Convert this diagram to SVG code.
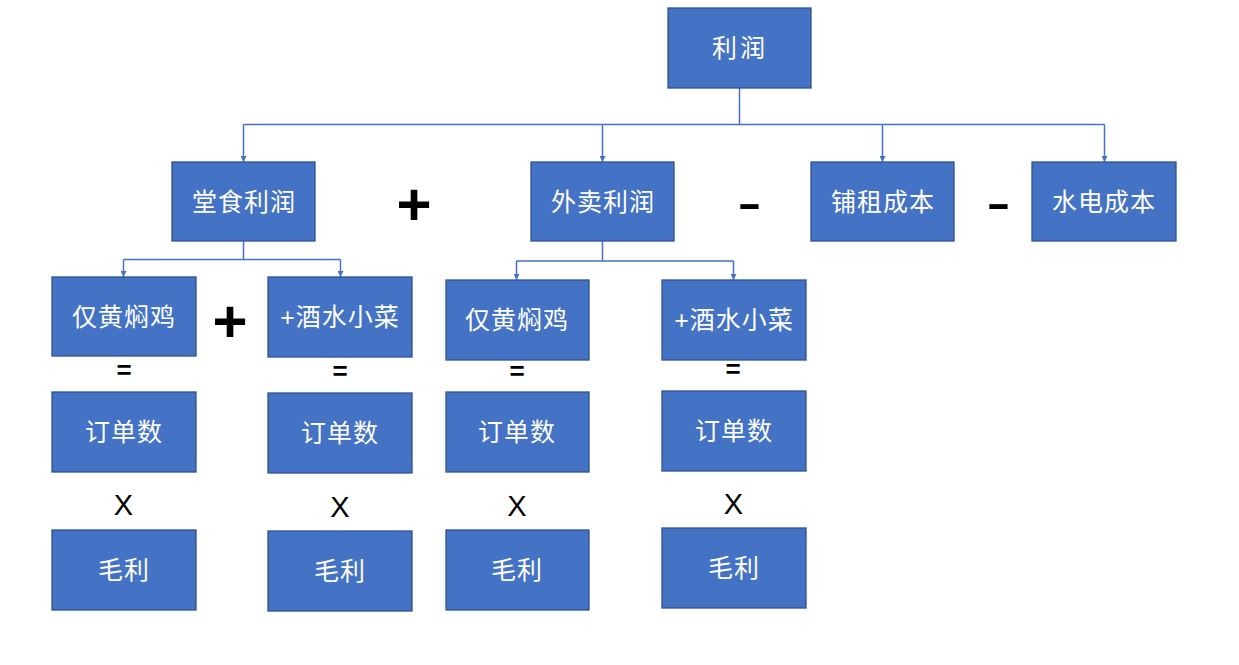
<svg xmlns="http://www.w3.org/2000/svg" width="1239" height="665" viewBox="0 0 1239 665">
<defs>
<marker id="arr" viewBox="0 0 10 10" refX="10" refY="5" markerWidth="6" markerHeight="6" markerUnits="userSpaceOnUse" orient="auto">
<path d="M0,0 L10,5 L0,10 Z" fill="#4472C4"/>
</marker>
<style>
.box{fill:#4472C4;stroke:#2F528F;stroke-width:1.3}
.lbl{fill:#FFFFFF;font-family:"Liberation Sans","Noto Sans CJK SC",sans-serif;font-size:25px;text-anchor:middle;dominant-baseline:central;letter-spacing:1px}
.con{fill:none;stroke:#4472C4;stroke-width:1.5}
.op{fill:#000000;font-family:"Liberation Sans",sans-serif;text-anchor:middle}
.big{font-size:60px;font-weight:bold}
.eq{font-size:26px;font-weight:bold}
.x{font-size:29px}
.mn{font-size:40px;font-weight:bold}
</style>
</defs>
<rect width="1239" height="665" fill="#FFFFFF"/>
<g id="connectors">
<path class="con" d="M739.5,88 V124.5 M243.5,124.5 H1104.5"/>
<path class="con" d="M243.5,124.5 V162" marker-end="url(#arr)"/>
<path class="con" d="M602.5,124.5 V162" marker-end="url(#arr)"/>
<path class="con" d="M882.5,124.5 V162" marker-end="url(#arr)"/>
<path class="con" d="M1104.5,124.5 V162" marker-end="url(#arr)"/>
<path class="con" d="M243.5,241 V259.5 M123.5,259.5 H340.5"/>
<path class="con" d="M123.5,259.5 V277" marker-end="url(#arr)"/>
<path class="con" d="M340.5,259.5 V277" marker-end="url(#arr)"/>
<path class="con" d="M602.5,241 V261 M516.5,261 H733.5"/>
<path class="con" d="M516.5,261 V280" marker-end="url(#arr)"/>
<path class="con" d="M733.5,261 V280" marker-end="url(#arr)"/>
</g>
<g id="n-profit"><rect class="box" x="668" y="8" width="143" height="80"/><text class="lbl" x="740" y="48" style="letter-spacing:3px">利润</text></g>
<g id="n-dinein"><rect class="box" x="172" y="162" width="143" height="79"/><text class="lbl" x="244" y="202">堂食利润</text></g>
<g id="n-takeout"><rect class="box" x="531" y="162" width="143" height="79"/><text class="lbl" x="603" y="202">外卖利润</text></g>
<g id="n-rent"><rect class="box" x="811" y="162" width="143" height="79"/><text class="lbl" x="883" y="202">铺租成本</text></g>
<g id="n-utility"><rect class="box" x="1032" y="162" width="144" height="79"/><text class="lbl" x="1104" y="202">水电成本</text></g>
<g id="n-d-chicken"><rect class="box" x="52" y="277" width="144" height="79"/><text class="lbl" x="124" y="317">仅黄焖鸡</text></g>
<g id="n-d-drinks"><rect class="box" x="268" y="277" width="144" height="80"/><text class="lbl" x="340" y="317">+酒水小菜</text></g>
<g id="n-t-chicken"><rect class="box" x="446" y="280" width="143" height="80"/><text class="lbl" x="517" y="320">仅黄焖鸡</text></g>
<g id="n-t-drinks"><rect class="box" x="662" y="280" width="144" height="80"/><text class="lbl" x="734" y="320">+酒水小菜</text></g>
<g id="n-orders1"><rect class="box" x="52" y="392" width="144" height="80"/><text class="lbl" x="124" y="432">订单数</text></g>
<g id="n-orders2"><rect class="box" x="268" y="393" width="144" height="80"/><text class="lbl" x="340" y="433">订单数</text></g>
<g id="n-orders3"><rect class="box" x="446" y="392" width="143" height="80"/><text class="lbl" x="517" y="432">订单数</text></g>
<g id="n-orders4"><rect class="box" x="662" y="391" width="144" height="80"/><text class="lbl" x="734" y="431">订单数</text></g>
<g id="n-margin1"><rect class="box" x="52" y="530" width="144" height="80"/><text class="lbl" x="124" y="570">毛利</text></g>
<g id="n-margin2"><rect class="box" x="268" y="531" width="144" height="80"/><text class="lbl" x="340" y="571">毛利</text></g>
<g id="n-margin3"><rect class="box" x="446" y="530" width="143" height="80"/><text class="lbl" x="517" y="570">毛利</text></g>
<g id="n-margin4"><rect class="box" x="662" y="528" width="144" height="80"/><text class="lbl" x="734" y="568">毛利</text></g>
<g id="operators">
<text class="op big" x="414" y="225">+</text>
<text class="op big" x="230" y="342">+</text>
<text class="op mn" transform="translate(749.5,217) scale(1.8,1)">-</text>
<text class="op mn" transform="translate(998.5,217) scale(1.8,1)">-</text>
<text class="op eq" x="124" y="379">=</text>
<text class="op eq" x="340" y="380">=</text>
<text class="op eq" x="517" y="380">=</text>
<text class="op eq" x="733" y="378">=</text>
<text class="op x" x="123.5" y="514.5">X</text>
<text class="op x" x="340" y="517">X</text>
<text class="op x" x="517" y="515.5">X</text>
<text class="op x" x="733.5" y="513.5">X</text>
</g>
</svg>
